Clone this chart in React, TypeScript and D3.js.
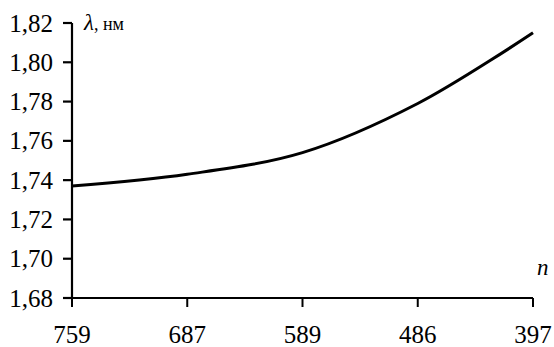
import React from 'react';
import * as d3 from 'd3';

// wavelength vs n
const nLabels = ['759', '687', '589', '486', '397'];
const lambdaValues = [1.737, 1.743, 1.754, 1.779, 1.815];
const yTicks = [1.68, 1.70, 1.72, 1.74, 1.76, 1.78, 1.80, 1.82];

const W = 554;
const H = 347;
const font = 'Liberation Serif, DejaVu Serif, serif';

export default function App() {
  const margin = { top: 23, right: 21, bottom: 49, left: 72 };

  //D3 mathy bits
  const x = d3.scalePoint<string>()
    .domain(nLabels)
    .range([margin.left, W - margin.right]);
  const y = d3.scaleLinear()
    .domain([1.68, 1.82])
    .range([H - margin.bottom, margin.top]);

  const line = d3.line<number>()
    .x((d, i) => x(nLabels[i]) as number)
    .y((d) => y(d))
    .curve(d3.curveCatmullRom.alpha(0.5));

  const fmt = (v: number) => d3.format('.2f')(v).replace('.', ',');
  const x0 = x.range()[0];
  const x1 = x.range()[1];
  const yb = y.range()[0];
  const yt = y.range()[1];

  return (
    <svg width={W} height={H} style={{ position: 'absolute', left: 0, top: 0, background: '#fff', fontFamily: font }}>
      <g fill="#000" style={{ fontFamily: font }}>
        {/* y axis */}
        <line x1={x0} y1={yt} x2={x0} y2={yb} stroke="#000" strokeWidth={2.2} />
        {yTicks.map((t) => (
          <g key={t}>
            <line x1={x0 - 9} y1={y(t)} x2={x0} y2={y(t)} stroke="#000" strokeWidth={2.2} />
            <text x={x0 - 19} y={y(t)} dy="0.34em" textAnchor="end" fontSize={25}>{fmt(t)}</text>
          </g>
        ))}
        {/* x axis */}
        <line x1={x0} y1={yb} x2={x1} y2={yb} stroke="#000" strokeWidth={2.2} />
        {nLabels.map((n) => (
          <g key={n}>
            <line x1={x(n)} y1={yb} x2={x(n)} y2={yb + 9} stroke="#000" strokeWidth={2} />
            <text x={x(n)} y={H - 4} textAnchor="middle" fontSize={25}>{n}</text>
          </g>
        ))}
        {/* axis titles */}
        <text x={x0 + 12} y={30}>
          <tspan fontStyle="italic" fontSize={23}>λ</tspan>
          <tspan fontSize={18}>, нм</tspan>
        </text>
        <text x={x1 + 4} y={275} fontStyle="italic" fontSize={23}>n</text>
        {/* curve */}
        <path d={line(lambdaValues) || ''} fill="none" stroke="#000" strokeWidth={3} />
      </g>
    </svg>
  );
}
